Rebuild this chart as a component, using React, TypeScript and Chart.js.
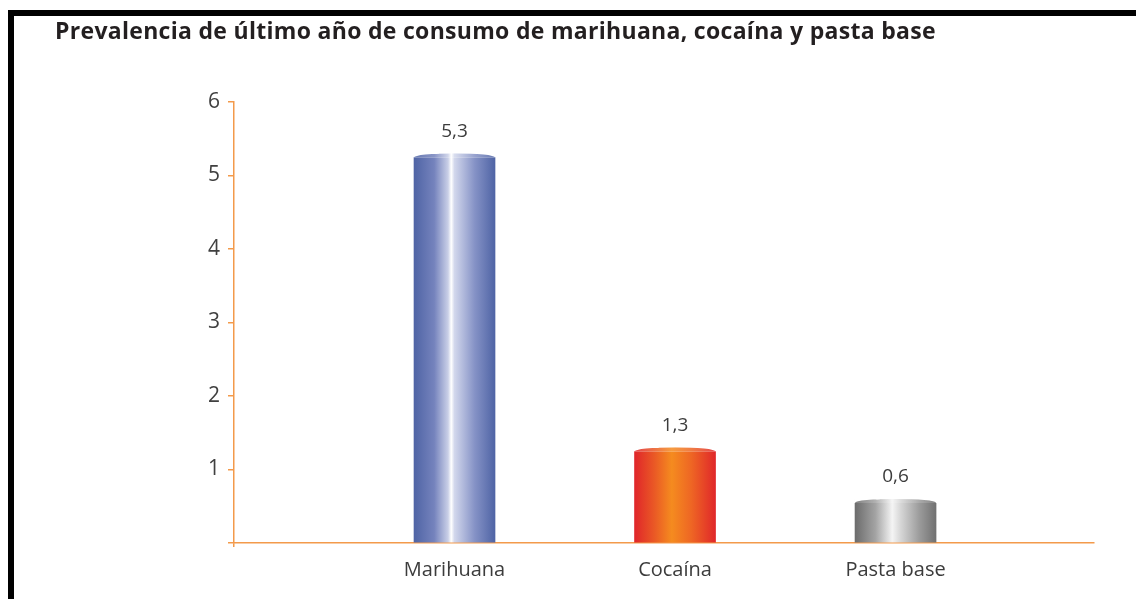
import React, { useEffect, useRef } from "react";
import { Chart, registerables } from "chart.js";

Chart.register(...registerables);

const title = "Prevalencia de último año de consumo de marihuana, cocaína y pasta base";
const categories = ["Marihuana", "Cocaína", "Pasta base"];
const values = [5.3, 1.3, 0.6];
const yTicks = [0, 1, 2, 3, 4, 5, 6];

const ORANGE = "#f39a4b";
const FONT = "'Open Sans', 'Noto Sans', sans-serif";

const gradientStops: [number, string][][] = [
  [
    [0, "#4f64a5"],
    [0.25, "#7583bd"],
    [0.42, "#c9cfe7"],
    [0.46, "#ffffff"],
    [0.5, "#d2d7ec"],
    [0.75, "#8592c6"],
    [1, "#4f64a5"],
  ],
  [
    [0, "#e0262a"],
    [0.25, "#ea5a25"],
    [0.46, "#f58b1f"],
    [0.7, "#ee6624"],
    [1, "#e0282a"],
  ],
  [
    [0, "#6c6c6c"],
    [0.25, "#a3a3a3"],
    [0.46, "#f4f4f4"],
    [0.55, "#dadada"],
    [0.8, "#9a9a9a"],
    [1, "#717171"],
  ],
];

const BAR_W = 81;

function makeGradient(ctx: CanvasRenderingContext2D, cx: number, w: number, i: number) {
  const stops = gradientStops[i] || gradientStops[0];
  const g = ctx.createLinearGradient(cx - w / 2, 0, cx + w / 2, 0);
  stops.forEach(([o, col]) => g.addColorStop(o, col));
  return g;
}

const decorPlugin = {
  id: "decor",
  beforeDraw(chart: any) {
    const ctx = chart.ctx;
    ctx.save();
    ctx.fillStyle = "#ffffff";
    ctx.fillRect(0, 0, chart.width, chart.height);
    ctx.fillStyle = "#000000";
    ctx.fillRect(8, 10, chart.width - 8, 6);
    ctx.fillRect(8, 10, 6, chart.height - 10);
    ctx.fillStyle = "#231f20";
    ctx.font = `bold 23px ${FONT}`;
    try {
      (ctx as any).letterSpacing = "0.3px";
    } catch (e) {}
    ctx.textAlign = "left";
    ctx.textBaseline = "alphabetic";
    ctx.fillText(title, 55, 39);
    ctx.restore();
  },
  beforeDatasetsDraw(chart: any) {
    const meta = chart.getDatasetMeta(0);
    meta.data.forEach((el: any, i: number) => {
      if (isFinite(el.x) && isFinite(el.width) && el.options) {
        el.options.backgroundColor = makeGradient(chart.ctx, el.x, el.width, i);
      }
    });
  },
  afterDatasetsDraw(chart: any) {
    const ctx = chart.ctx;
    const meta = chart.getDatasetMeta(0);
    meta.data.forEach((el: any, i: number) => {
      const w = el.width;
      const left = el.x - w / 2;
      const top = el.y;
      const ry = 4;
      ctx.save();
      ctx.beginPath();
      ctx.rect(left - 1, top - 1, w + 2, ry + 1);
      ctx.clip();
      ctx.beginPath();
      ctx.rect(left - 1, top - 1, w + 2, ry + 1);
      ctx.ellipse(el.x, top + ry, w / 2, ry, 0, 0, Math.PI * 2);
      ctx.fillStyle = "#ffffff";
      ctx.fill("evenodd");
      ctx.beginPath();
      ctx.ellipse(el.x, top + ry, w / 2, ry, 0, Math.PI, Math.PI * 2);
      ctx.fillStyle = "rgba(255,255,255,0.15)";
      ctx.fill();
      ctx.restore();
      ctx.save();
      ctx.fillStyle = "#3c3c3c";
      ctx.font = `19px ${FONT}`;
      ctx.textAlign = "center";
      ctx.textBaseline = "middle";
      ctx.fillText(String(values[i]).replace(".", ","), el.x, top - 22);
      ctx.restore();
    });
  },
};

export default function App() {
  const ref = useRef<HTMLCanvasElement>(null);

  useEffect(() => {
    const canvas = ref.current;
    if (!canvas) return;
    const chart = new Chart(canvas, {
      type: "bar",
      data: {
        datasets: [
          {
            data: values.map((v, i) => ({ x: i + 1, y: v })),
            barThickness: BAR_W,
            borderWidth: 0,
            backgroundColor: (c: any) => {
              const stops = gradientStops[c.dataIndex] || gradientStops[0];
              return stops[0][1];
            },
          },
        ],
      },
      options: {
        animation: false,
        responsive: false,
        maintainAspectRatio: false,
        layout: { padding: { left: 0, right: 42, top: 102, bottom: 0 } },
        plugins: {
          legend: { display: false },
          title: { display: false },
          tooltip: { enabled: false },
        },
        scales: {
          x: {
            type: "linear",
            min: 0,
            max: 3.9,
            offset: false,
            afterBuildTicks: (s: any) => {
              s.ticks = [0, 1, 2, 3].map((v) => ({ value: v }));
            },
            afterFit: (s: any) => {
              s.height = 56;
            },
            ticks: {
              autoSkip: false,
              maxRotation: 0,
              padding: 11,
              color: "#3c3c3c",
              font: { family: FONT, size: 20 },
              callback: (v: any) => (v >= 1 ? categories[v - 1] : ""),
            },
            grid: {
              offset: false,
              drawOnChartArea: false,
              tickLength: 4,
              lineWidth: 1.5,
              color: (c: any) => (c.tick && c.tick.value === 0 ? ORANGE : "rgba(0,0,0,0)"),
            },
            border: { color: ORANGE, width: 1.5 },
          },
          y: {
            min: 0,
            max: 6,
            afterBuildTicks: (s: any) => {
              s.ticks = yTicks.map((v) => ({ value: v }));
            },
            afterFit: (s: any) => {
              s.width = 234;
            },
            ticks: {
              padding: 8,
              color: "#404040",
              font: { family: FONT, size: 21 },
              callback: (v: any) => (v === 0 ? "" : String(v)),
            },
            grid: {
              drawOnChartArea: false,
              tickLength: 6,
              lineWidth: 1.5,
              color: ORANGE,
            },
            border: { color: ORANGE, width: 1.5 },
          },
        },
      },
      plugins: [decorPlugin],
    } as any);
    return () => chart.destroy();
  }, []);

  return (
    <div style={{ position: "fixed", left: 0, top: 0, width: 1136, height: 599, background: "#fff" }}>
      <canvas ref={ref} width={1136} height={599} style={{ display: "block", width: 1136, height: 599 }} />
    </div>
  );
}
